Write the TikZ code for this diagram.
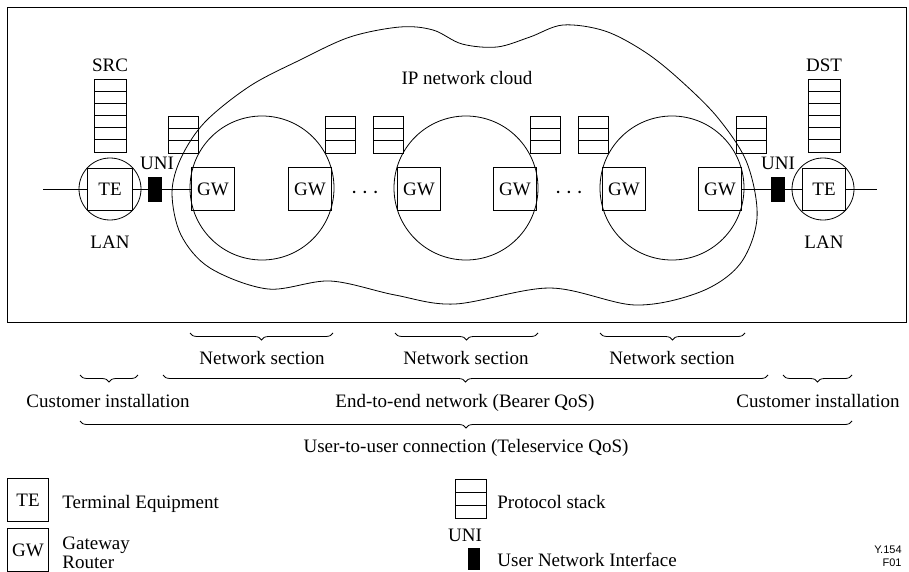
\documentclass[tikz,border=0pt]{standalone}
\usepackage{fontspec}
\setmainfont{Liberation Serif}
\newfontfamily\figfont{Liberation Sans}
\usetikzlibrary{decorations.pathreplacing}

\tikzset{
  every node/.style={font=\fontsize{19}{22}\selectfont, text height=13pt, text depth=0pt},
  eqbox/.style={draw, minimum width=43pt, minimum height=43pt, inner sep=0pt},
  unibar/.style={fill=black, minimum width=14pt, minimum height=25pt, inner sep=0pt},
  lan/.style={draw, circle, minimum size=62pt, inner sep=0pt},
  sbrace/.style={decorate, decoration={brace, mirror, amplitude=7pt}},
  legtext/.style={anchor=west, inner sep=2pt},
  figref/.style={anchor=east, inner sep=1pt, font=\figfont\fontsize{11}{12}\selectfont, text height=8pt, text depth=0pt},
}

\begin{document}
\begin{tikzpicture}[x=1pt, y=-1pt, line width=0.8pt]
  \useasboundingbox (0,0) rectangle (909,572);
  \draw (7,7) rectangle (906,322);

  % IP cloud
  \draw plot[smooth cycle, tension=0.55] coordinates {
    (172,193) (181,235) (210,268) (268,289) (330,281) (395,295) (455,304)
    (550,288) (635,305) (700,292) (740,264) (757,218) (747,163) (718,118)
    (680,80) (645,52) (605,31) (563,25) (530,37) (497,47) (462,44) (433,30)
    (400,27) (350,37) (300,60) (250,86) (205,122) (181,158)};
  \node (cloud) at (467,78) {IP network cloud};

  % network sections
  \foreach \cx in {262, 466, 672}
    \draw (\cx,188) circle (72pt);

  % protocol stacks
  \foreach \sx in {183, 340, 388, 545, 593, 751} {
    \draw (\sx-15,116) rectangle (\sx+15,153);
    \draw (\sx-15,128.3) -- (\sx+15,128.3) (\sx-15,140.7) -- (\sx+15,140.7);
  }
  \foreach \sx in {110, 824} {
    \draw (\sx-16,79) rectangle (\sx+16,152);
    \foreach \r in {1,...,5}
      \draw (\sx-16,79+\r*12.17) -- (\sx+16,79+\r*12.17);
  }
  \node (src) at (110,65) {SRC};
  \node (dst) at (824,65) {DST};

  % terminals, gateways, interfaces
  \node[lan] (lanL) at (110,189) {};
  \node[eqbox, minimum width=45pt, minimum height=42pt] (teL) at (110,189) {TE};
  \node[unibar] (uniL) at (155,189) {};
  \node[eqbox] (gw1) at (213,189) {GW};
  \node[eqbox] (gw2) at (310,189) {GW};
  \node[scale=1.4] (dots1) at (365,189) {$\cdots$};
  \node[eqbox] (gw3) at (419,189) {GW};
  \node[eqbox] (gw4) at (515,189) {GW};
  \node[scale=1.4] (dots2) at (569,189) {$\cdots$};
  \node[eqbox] (gw5) at (624,189) {GW};
  \node[eqbox] (gw6) at (720,189) {GW};
  \node[unibar] (uniR) at (778,189) {};
  \node[lan] (lanR) at (823,189) {};
  \node[eqbox, minimum width=43pt, minimum height=42pt] (teR) at (824,189) {TE};
  \coordinate (endL) at (43,189);
  \coordinate (endR) at (877,189);
  \draw (endL) -- (teL) (teL) -- (uniL) (uniL) -- (gw1);
  \draw (gw6) -- (uniR) (uniR) -- (teR) (teR) -- (endR);

  \node (uniLl) at (157,163) {UNI};
  \node (uniRl) at (778,163) {UNI};
  \node (lanLl) at (110,242) {LAN};
  \node (lanRl) at (824,242) {LAN};

  % braces
  \draw[sbrace] (190,333) -- (333,333);
  \draw[sbrace] (395,333) -- (538,333);
  \draw[sbrace] (600,333) -- (745,333);
  \node (ns1) at (262,358) {Network section};
  \node (ns2) at (466,358) {Network section};
  \node (ns3) at (672,358) {Network section};

  \draw[sbrace] (80,375) -- (138,375);
  \draw[sbrace] (163,375) -- (768,375);
  \draw[sbrace] (783,375) -- (852,375);
  \node (ciL) at (108,401) {Customer installation};
  \node (e2e) at (465,401) {End-to-end network (Bearer QoS)};
  \node (ciR) at (818,401) {Customer installation};

  \draw[sbrace] (80,421) -- (852,421);
  \node (u2u) at (466,446) {User-to-user connection (Teleservice QoS)};

  % legend
  \node[eqbox, minimum width=41pt, minimum height=43pt] (legte) at (28,500) {TE};
  \node[legtext] (legtet) at (60,502) {Terminal Equipment};
  \node[eqbox, minimum width=41pt, minimum height=43pt] (leggw) at (28,550) {GW};
  \node[legtext] (leggwa) at (60,543) {Gateway};
  \node[legtext] (leggwb) at (60,562) {Router};
  \draw (455,479) rectangle (486,518);
  \draw (455,492) -- (486,492) (455,505) -- (486,505);
  \node[legtext] (legps) at (495,502) {Protocol stack};
  \node (leguni) at (465,535) {UNI};
  \node[unibar, minimum width=12pt, minimum height=22pt] (legbar) at (474,559) {};
  \node[legtext] (legunit) at (495,560) {User Network Interface};
  \node[figref] (ref1) at (903,549) {Y.154};
  \node[figref] (ref2) at (903,562) {F01};
\end{tikzpicture}
\end{document}
